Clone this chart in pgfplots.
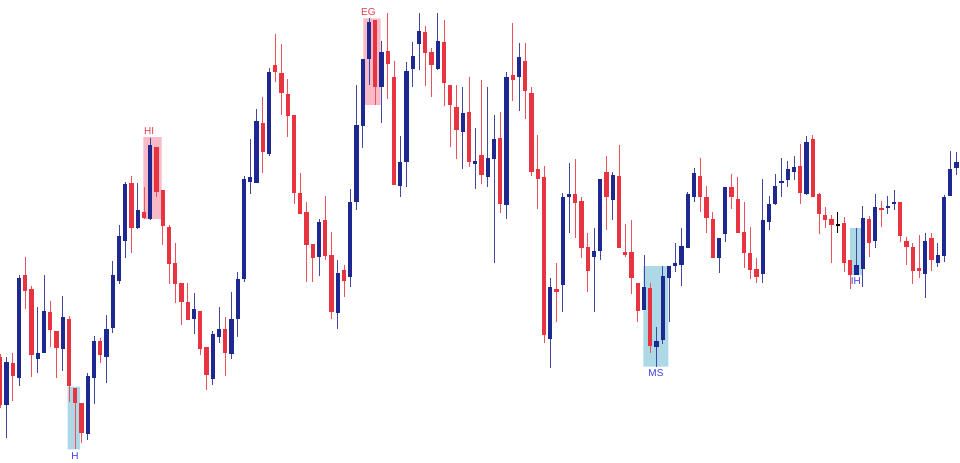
\documentclass[border=0pt]{standalone}
\usepackage{fontspec}
\setmainfont{Liberation Sans}
\usepackage{pgfplots}
\usepackage{pgfplotstable}
\pgfplotsset{compat=1.18}

\definecolor{cblue}{RGB}{30,40,145}
\definecolor{cred}{RGB}{232,52,64}
\definecolor{boxpink}{RGB}{248,186,198}
\definecolor{boxblue}{RGB}{173,216,230}
\definecolor{lblblue}{RGB}{60,60,225}
\definecolor{lblred}{RGB}{228,58,70}

% candles, k = bar index, prices in screen units (y grows downward)
\pgfplotstableread{
k o h l c
1 405 357 438 362
3 378 275 386 278
6 359 307 373 353
7 353 275 353 311
10 349 296 371 317
14 434 373 440 376
15 378 336 404 341
17 357 315 383 329
18 328 261 333 275
19 281 225 284 236
20 241 182 258 184
22 228 183 229 210
24 219 138 220 145
31 319 293 334 309
34 379 331 385 334
35 337 307 343 329
37 354 292 359 319
38 319 272 337 279
39 279 176 282 179
40 182 139 194 177
41 183 109 183 121
43 154 68 156 72
51 257 219 276 222
54 313 260 329 273
56 277 189 287 202
57 202 85 210 125
58 126 59 148 59
59 59 18 85 22
61 87 41 123 52
64 186 136 197 162
65 162 62 187 71
66 69 42 87 56
67 44 13 70 31
70 69 13 70 41
74 132 87 169 113
76 164 128 189 161
78 177 87 187 158
79 159 115 263 139
81 205 72 219 77
83 77 43 111 57
88 339 278 368 287
90 285 193 312 197
91 197 163 233 194
95 257 228 312 251
96 251 179 260 179
98 200 172 220 175
103 310 255 310 287
105 347 327 367 341
106 340 266 344 276
107 278 266 322 266
108 266 243 272 263
109 265 228 286 246
110 248 192 248 194
111 197 168 202 173
115 258 238 273 238
116 234 187 242 187
122 274 179 283 220
123 222 196 230 204
124 204 174 205 186
125 183 158 197 181
126 180 161 187 169
127 172 156 180 167
129 194 136 195 142
137 275 228 275 265
138 269 206 287 218
140 241 194 248 207
142 208 196 214 206
143 204 190 210 202
148 274 233 298 241
150 263 243 267 255
151 256 195 262 197
152 196 151 196 169
153 168 152 175 162
}\bluecandles

\pgfplotstableread{
k o h l c
0 357 354 408 405
2 363 353 401 376
4 275 257 309 291
5 289 286 377 355
8 312 301 347 330
9 331 331 378 348
11 319 316 402 386
12 388 388 449 403
13 403 403 443 433
16 341 338 363 355
21 183 176 253 228
23 212 187 219 218
25 147 147 197 192
26 190 190 245 226
27 227 225 284 264
28 263 243 303 284
29 283 283 325 302
30 302 283 320 320
32 311 311 355 349
33 347 347 390 375
36 329 317 376 353
42 123 97 173 152
44 65 34 82 72
45 73 44 115 93
46 94 79 137 116
47 115 115 204 193
48 193 173 214 214
49 212 202 282 245
50 244 244 282 258
52 220 196 260 256
53 255 232 319 312
55 270 265 297 281
60 20 20 105 87
62 51 13 99 64
63 77 61 185 185
68 32 26 86 53
69 52 48 97 65
71 42 20 106 83
72 85 85 147 105
73 107 85 159 130
75 112 77 167 162
77 155 80 184 175
80 138 112 213 204
82 75 23 101 80
84 61 43 119 91
85 93 87 176 172
86 169 135 209 179
87 177 166 343 335
89 289 263 322 292
92 194 159 238 203
93 201 197 258 248
94 247 233 292 271
97 172 156 230 197
99 176 145 248 248
100 252 224 257 255
101 252 220 294 278
102 283 283 322 311
104 288 283 353 346
112 176 158 212 197
113 197 186 233 218
114 219 212 258 258
117 187 174 209 197
118 199 177 233 233
119 232 202 268 253
120 253 227 279 270
121 269 258 283 277
128 166 144 204 193
130 139 135 197 197
131 194 193 234 214
132 215 207 228 220
133 219 215 263 225
135 223 217 272 263
136 260 260 289 275
139 219 216 257 243
141 208 201 227 210
144 202 202 242 236
145 241 237 265 247
146 247 243 284 271
147 268 235 278 271
149 238 233 271 260
}\redcandles

\pgfplotstableread{
k o h l c
134 224.4 212 233 225.6
}\dojicandles

\begin{document}
\begin{tikzpicture}
\begin{axis}[
    scale only axis,
    width=960bp, height=463bp,
    xmin=-0.05, xmax=153.55,
    ymin=0, ymax=463,
    y dir=reverse,
    hide axis,
]
% pattern boxes
\addplot[fill=boxblue, draw=none] coordinates {(10.78,386.7) (12.75,386.7) (12.75,449.3) (10.78,449.3) (10.78,386.7)};
\addplot[fill=boxpink, draw=none] coordinates {(22.88,137) (25.82,137) (25.82,219) (22.88,219) (22.88,137)};
\addplot[fill=boxpink, draw=none] coordinates {(58.08,18.3) (60.86,18.3) (60.86,105) (58.08,105) (58.08,18.3)};
\addplot[fill=boxblue, draw=none] coordinates {(102.88,266) (106.88,266) (106.88,366.7) (102.88,366.7) (102.88,266)};
\addplot[fill=boxblue, draw=none] coordinates {(135.95,228) (137.92,228) (137.92,275) (135.95,275) (135.95,228)};

% wicks
\addplot[draw=none, mark=none, error bars/.cd, y dir=plus, y explicit, error mark=none,
    error bar style={line width=1bp, draw=cblue!85}]
    table[x=k, y=h, y error plus expr=\thisrow{l}-\thisrow{h}] {\bluecandles};
\addplot[draw=none, mark=none, error bars/.cd, y dir=plus, y explicit, error mark=none,
    error bar style={line width=1bp, draw=cred!85}]
    table[x=k, y=h, y error plus expr=\thisrow{l}-\thisrow{h}] {\redcandles};
\addplot[draw=none, mark=none, error bars/.cd, y dir=plus, y explicit, error mark=none,
    error bar style={line width=1bp, draw=black}]
    table[x=k, y=h, y error plus expr=\thisrow{l}-\thisrow{h}] {\dojicandles};

% bodies
\addplot[draw=none, mark=none, error bars/.cd, y dir=plus, y explicit, error mark=none,
    error bar style={line width=4.2bp, draw=cblue}]
    table[x=k, y=c, y error plus expr=\thisrow{o}-\thisrow{c}] {\bluecandles};
\addplot[draw=none, mark=none, error bars/.cd, y dir=plus, y explicit, error mark=none,
    error bar style={line width=4.2bp, draw=cred}]
    table[x=k, y=o, y error plus expr=\thisrow{c}-\thisrow{o}] {\redcandles};
\addplot[draw=none, mark=none, error bars/.cd, y dir=plus, y explicit, error mark=none,
    error bar style={line width=4.2bp, draw=black}]
    table[x=k, y=o, y error plus expr=\thisrow{c}-\thisrow{o}] {\dojicandles};

% pattern labels
\node[text=lblblue, font=\fontsize{10bp}{12bp}\selectfont] at (axis cs:11.95,455.7) {H};
\node[text=lblred, font=\fontsize{10bp}{12bp}\selectfont] at (axis cs:23.8,131.5) {HI};
\node[text=lblred, font=\fontsize{10bp}{12bp}\selectfont] at (axis cs:58.9,12.2) {EG};
\node[text=lblblue, font=\fontsize{10bp}{12bp}\selectfont] at (axis cs:104.9,373.5) {MS};
\node[text=lblblue, font=\fontsize{10bp}{12bp}\selectfont] at (axis cs:136.9,281.2) {IH};
\end{axis}
\pgfresetboundingbox
\path[use as bounding box] (current axis.south west) rectangle (current axis.north east);
\end{tikzpicture}
\end{document}
